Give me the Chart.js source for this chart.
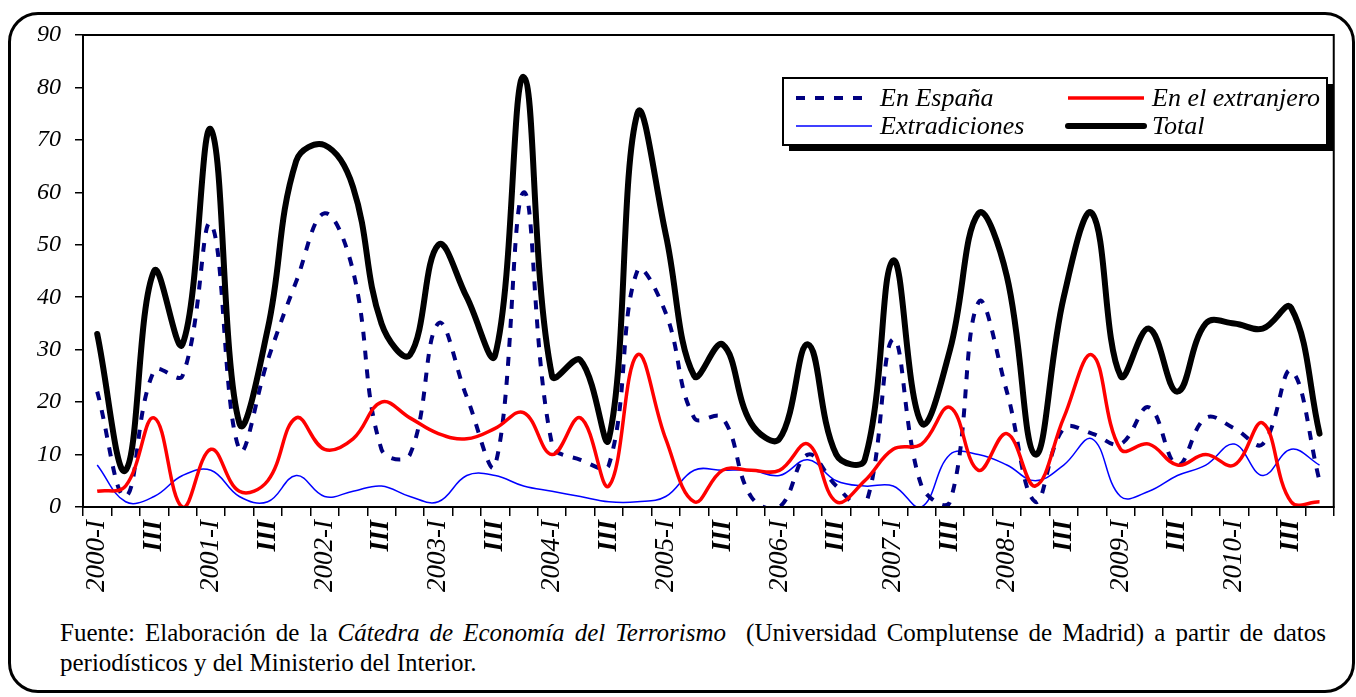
<!DOCTYPE html>
<html>
<head>
<meta charset="utf-8">
<title>Detenciones trimestrales 2000-2010</title>
<script src="https://cdn.jsdelivr.net/npm/chart.js@4.4.1/dist/chart.umd.min.js"></script>
<style>
  html, body { margin: 0; padding: 0; background: #fff; }
  body { width: 1356px; height: 697px; position: relative; overflow: hidden;
         font-family: 'Liberation Serif', serif; }
  #frame { position: absolute; left: 8px; top: 12px; width: 1347px; height: 681px;
           border: 3px solid #000; border-radius: 30px; box-sizing: border-box; }
  #wrap { position: absolute; left: 0; top: 0; width: 1356px; height: 615px; }
  #note { position: absolute; left: 60px; top: 618px; width: 1266px;
          font-family: 'Liberation Serif', serif; font-size: 25px; line-height: 30px; color: #000; }
  #note .l1 { text-align: justify; text-align-last: justify; white-space: nowrap; }
</style>
</head>
<body>
<div id="frame"></div>
<div id="wrap"><canvas id="chart"></canvas></div>
<div id="note">
  <div class="l1">Fuente: Elaboración de la <i>Cátedra de Economía del Terrorismo</i> &nbsp;(Universidad Complutense de Madrid) a partir de datos</div>
  <div>periodísticos y del Ministerio del Interior.</div>
</div>
<script>
// quarters 2000-I .. 2010-IV
const categories = [
  '2000-I','2000-II','2000-III','2000-IV','2001-I','2001-II','2001-III','2001-IV',
  '2002-I','2002-II','2002-III','2002-IV','2003-I','2003-II','2003-III','2003-IV',
  '2004-I','2004-II','2004-III','2004-IV','2005-I','2005-II','2005-III','2005-IV',
  '2006-I','2006-II','2006-III','2006-IV','2007-I','2007-II','2007-III','2007-IV',
  '2008-I','2008-II','2008-III','2008-IV','2009-I','2009-II','2009-III','2009-IV',
  '2010-I','2010-II','2010-III','2010-IV'
];
// what is printed under each quarter
const tickLabels = [
  '2000-I','','III','','2001-I','','III','','2002-I','','III','',
  '2003-I','','III','','2004-I','','III','','2005-I','','III','',
  '2006-I','','III','','2007-I','','III','','2008-I','','III','',
  '2009-I','','III','','2010-I','','III',''
];

const enEspana      = [22,2,26,25,54,11,28,43,56,45,11,10,35,21,8,60,12,9,8,45,37,17,17,2,0,10,4,0,32,4,1,39,22,1,15,14,12,19,8,17,15,12,26,5];
const enExtranjero  = [3,4,17,0,11,3,5,17,11,13,20,17,14,13,15,18,10,17,4,29,13,1,7,7,7,12,1,5,11,12,19,7,14,4,17,29,11,12,8,10,8,16,1,1];
const extradiciones = [8,1,2,6,7,2,1,6,2,3,4,2,1,6,6,4,3,2,1,1,2,7,7,7,6,9,5,4,4,0,10,10,8,5,8,13,2,3,6,8,12,6,11,8];
const total         = [33,7,45,31,72,16,34,66,69,61,35,29,50,40,29,82,25,28,13,75,52,25,31,16,13,31,10,9,47,16,30,56,44,10,40,56,25,34,22,35,35,34,38,14];

const yTicks = [0,10,20,30,40,50,60,70,80,90];

const serif = "'Liberation Serif', serif";
Chart.defaults.font.family = serif;

// black box round the plot area
const plotFrame = {
  id: 'plotFrame',
  afterDatasetsDraw(chart) {
    const {ctx, chartArea: {left, top, right, bottom}} = chart;
    ctx.save();
    ctx.strokeStyle = '#000';
    ctx.lineWidth = 2;
    ctx.strokeRect(left, top, right - left, bottom - top);
    ctx.restore();
  }
};

// legend box with shadow, 2x2
const boxLegend = {
  id: 'boxLegend',
  afterDraw(chart) {
    const ctx = chart.ctx;
    const bx = 783, by = 78, bw = 544, bh = 67;
    ctx.save();
    ctx.fillStyle = '#000';
    ctx.fillRect(bx + 6, by + 6, bw, bh);
    ctx.fillStyle = '#fff';
    ctx.fillRect(bx, by, bw, bh);
    ctx.strokeStyle = '#000';
    ctx.lineWidth = 2;
    ctx.strokeRect(bx, by, bw, bh);
    const slots = [[796, 98], [1068, 98], [796, 126], [1068, 126]];
    chart.data.datasets.forEach((ds, i) => {
      const [sx, sy] = slots[i];
      ctx.beginPath();
      ctx.setLineDash(ds.borderDash || []);
      ctx.lineWidth = ds.borderWidth;
      ctx.strokeStyle = ds.borderColor;
      ctx.lineCap = ds.borderCapStyle || 'butt';
      ctx.moveTo(sx, sy);
      ctx.lineTo(sx + 76, sy);
      ctx.stroke();
      ctx.setLineDash([]);
      ctx.fillStyle = '#000';
      ctx.font = 'italic 26px ' + serif;
      ctx.textBaseline = 'alphabetic';
      ctx.fillText(ds.label, sx + 84, sy + 8);
    });
    ctx.restore();
  }
};

new Chart(document.getElementById('chart'), {
  type: 'line',
  data: {
    labels: categories,
    datasets: [
      { label: 'En España', data: enEspana, borderColor: '#000080', borderWidth: 4,
        borderDash: [9, 10], order: 3 },
      { label: 'En el extranjero', data: enExtranjero, borderColor: '#ff0000', borderWidth: 3.5,
        order: 2 },
      { label: 'Extradiciones', data: extradiciones, borderColor: '#0000ff', borderWidth: 1.5,
        order: 4 },
      { label: 'Total', data: total, borderColor: '#000000', borderWidth: 6,
        borderCapStyle: 'round', borderJoinStyle: 'round', order: 1 }
    ]
  },
  options: {
    responsive: true,
    maintainAspectRatio: false,
    devicePixelRatio: 1,
    animation: false,
    layout: { padding: { top: 35, right: 6, left: 0, bottom: 0 } },
    elements: {
      point: { radius: 0, hoverRadius: 0 },
      line: { tension: 0.4, capBezierPoints: false, fill: false }
    },
    plugins: { legend: { display: false }, tooltip: { enabled: false } },
    scales: {
      x: {
        offset: true,
        grid: { offset: true, drawOnChartArea: false, drawTicks: true, tickLength: 9,
                color: '#000', lineWidth: 1.5 },
        border: { color: '#000', width: 2 },
        ticks: {
          autoSkip: false, minRotation: 90, maxRotation: 90, padding: 4, color: '#000',
          font: (c) => ({ family: serif, size: 27, style: 'italic',
                          weight: tickLabels[c.index] === 'III' ? 'bold' : 'normal' }),
          callback: (v, i) => tickLabels[i]
        },
        afterFit: (s) => { s.height = 108; }
      },
      y: {
        min: 0, max: 90,
        afterBuildTicks: (s) => { s.ticks = yTicks.map(v => ({ value: v })); },
        grid: { drawOnChartArea: false, drawTicks: true, tickLength: 8, color: '#000', lineWidth: 1.5 },
        border: { color: '#000', width: 2 },
        ticks: { color: '#000', padding: 14, font: { family: serif, size: 24, style: 'italic' } },
        afterFit: (s) => { s.width = 83; }
      }
    }
  },
  plugins: [plotFrame, boxLegend]
});
</script>
</body>
</html>
